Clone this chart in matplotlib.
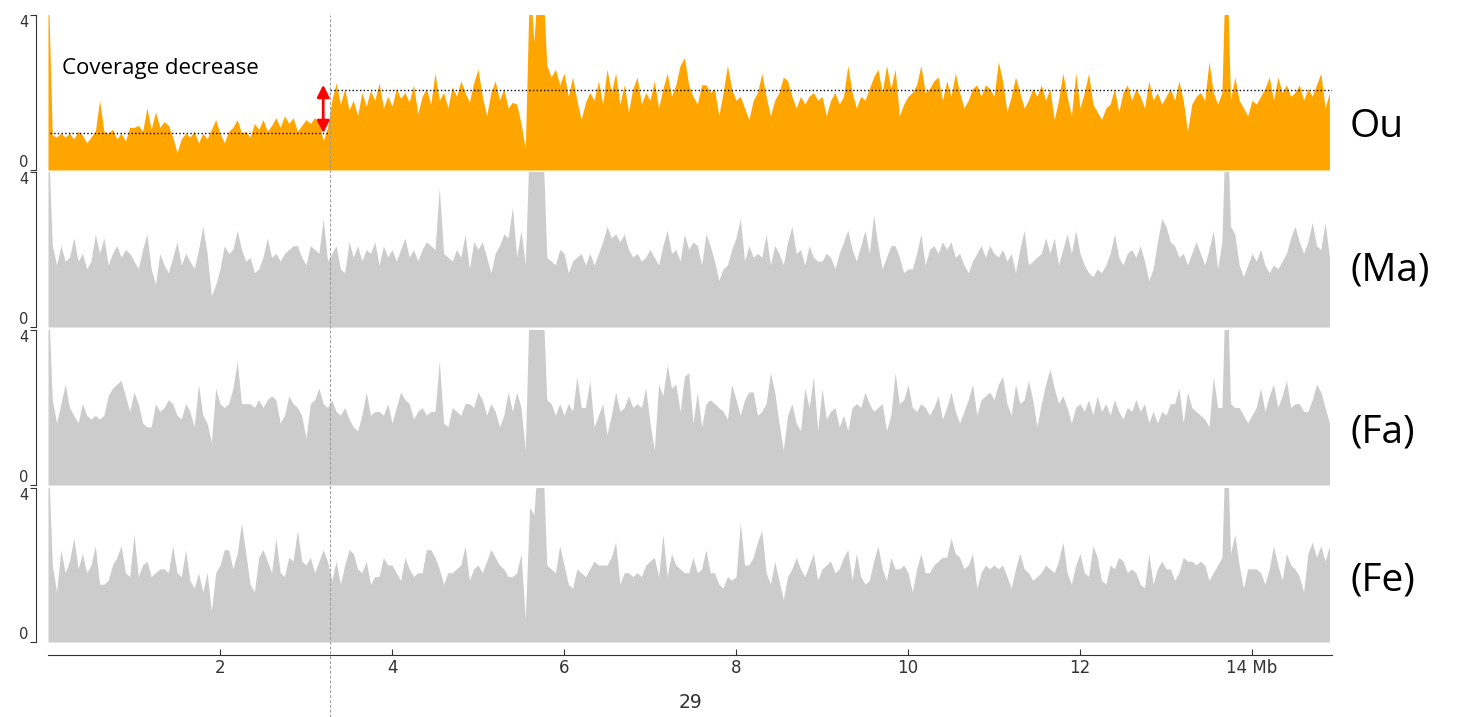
import numpy as np
import matplotlib.pyplot as plt
from matplotlib.lines import Line2D
from matplotlib import transforms

# coverage per 50 kb bin along chromosome 29 (Mb), one row per Mb
bin_mb = 0.05

ou = [
    5.0, 0.9, 0.85, 0.95, 0.85, 0.95, 0.8, 1.0, 0.9, 0.7, 0.85, 1.0, 1.8, 1.0, 0.95, 1.05, 0.8, 0.95, 0.75, 1.1,
    1.1, 1.15, 1.0, 1.6, 1.05, 1.5, 1.1, 1.25, 1.15, 0.85, 0.45, 0.8, 0.95, 0.85, 1.0, 0.7, 0.95, 0.8, 1.05, 1.3,
    0.95, 0.7, 1.0, 1.1, 1.3, 0.95, 1.0, 0.85, 1.2, 1.05, 1.3, 1.0, 1.15, 1.35, 1.1, 1.4, 1.2, 1.35, 1.0, 1.15,
    1.3, 1.2, 1.35, 1.25, 0.75, 1.1, 1.8, 2.25, 1.7, 2.1, 1.55, 1.8, 1.4, 2.0, 1.65, 2.05, 1.8, 2.25, 1.6, 1.9,
    1.65, 2.1, 1.85, 2.0, 1.75, 2.2, 1.45, 1.9, 2.1, 1.7, 2.5, 1.8, 2.0, 1.6, 2.15, 1.9, 2.3, 2.0, 1.75, 2.25,
    2.6, 1.9, 1.4, 2.0, 2.3, 1.8, 2.1, 1.6, 1.75, 1.7, 1.2, 0.55, 5.0, 3.3, 5.0, 5.0, 2.7, 2.4, 2.6, 2.2,
    2.5, 1.9, 2.4, 1.8, 1.3, 1.75, 2.0, 1.8, 2.3, 1.7, 2.6, 2.0, 2.5, 1.7, 2.2, 1.5, 2.1, 2.4, 1.7, 2.0,
    1.8, 2.3, 1.6, 2.1, 2.5, 1.9, 2.2, 2.7, 2.9, 2.2, 1.9, 1.7, 2.2, 2.2, 2.0, 2.1, 1.4, 2.0, 2.7, 2.1,
    1.8, 1.9, 1.6, 1.3, 1.8, 2.0, 2.5, 1.9, 1.4, 1.8, 2.0, 2.4, 2.3, 1.9, 1.6, 1.9, 1.7, 1.9, 2.0, 1.8,
    1.9, 1.4, 1.8, 2.0, 1.7, 1.9, 2.7, 2.0, 1.6, 1.9, 1.8, 2.1, 2.4, 2.6, 2.0, 2.7, 2.1, 2.6, 1.4, 1.7,
    1.9, 2.0, 2.2, 2.7, 2.0, 2.1, 2.3, 2.4, 1.8, 2.3, 1.9, 2.5, 2.0, 1.6, 1.8, 2.1, 2.2, 1.9, 2.2, 2.1,
    1.9, 2.8, 2.3, 1.5, 1.9, 2.4, 2.0, 1.6, 1.8, 2.1, 1.9, 2.2, 1.8, 2.1, 1.3, 1.8, 2.5, 1.9, 1.4, 2.5,
    1.6, 2.0, 2.5, 1.7, 1.5, 1.3, 1.6, 1.7, 2.1, 1.5, 2.0, 2.2, 1.8, 2.1, 1.9, 1.6, 2.3, 1.8, 2.0, 1.7,
    1.9, 2.1, 1.8, 2.3, 1.8, 1.0, 1.7, 1.9, 2.0, 1.8, 2.8, 2.0, 1.7, 2.0, 6.0, 1.8, 2.4, 1.8, 1.6, 1.4,
    1.8, 1.7, 1.9, 2.1, 2.4, 1.8, 2.4, 2.0, 2.2, 1.9, 2.0, 2.2, 1.8, 2.1, 1.9, 2.2, 2.5, 1.6, 2.0,
]

ma = [
    5.0, 2.1, 1.6, 2.1, 1.7, 1.8, 2.3, 1.7, 1.9, 1.5, 1.7, 2.4, 1.9, 2.3, 1.6, 1.9, 2.1, 1.8, 2.0, 1.9,
    1.7, 1.5, 2.0, 2.4, 1.5, 1.1, 1.9, 1.6, 1.4, 1.8, 2.2, 1.6, 1.9, 1.7, 1.5, 2.0, 2.6, 1.9, 0.8, 1.1,
    1.5, 2.1, 1.9, 2.0, 2.5, 2.0, 1.7, 1.8, 1.4, 1.5, 1.8, 2.3, 1.8, 1.9, 1.7, 1.9, 2.0, 2.1, 2.1, 1.8,
    1.6, 2.1, 2.0, 1.9, 2.8, 1.7, 1.9, 2.1, 1.5, 1.4, 2.2, 1.8, 2.1, 1.7, 2.0, 1.9, 2.2, 1.6, 2.1, 1.8,
    2.0, 1.7, 2.0, 2.3, 1.8, 2.0, 1.7, 2.0, 2.2, 2.1, 2.0, 3.6, 1.9, 1.8, 1.7, 2.0, 1.8, 2.4, 1.5, 2.2,
    2.0, 2.2, 1.8, 1.4, 1.9, 2.1, 2.4, 2.3, 3.1, 1.8, 2.5, 1.6, 5.0, 5.0, 5.0, 5.0, 1.8, 1.7, 1.6, 2.0,
    1.9, 1.4, 1.7, 1.8, 1.9, 1.6, 1.9, 1.6, 1.9, 2.2, 2.6, 2.3, 2.4, 2.2, 2.4, 2.0, 1.8, 1.9, 1.7, 1.8,
    2.0, 1.8, 1.6, 2.1, 2.5, 1.9, 2.0, 1.7, 2.4, 2.0, 2.2, 2.1, 1.6, 2.4, 2.1, 1.7, 1.2, 1.5, 1.6, 2.0,
    2.3, 2.8, 1.7, 2.1, 1.8, 1.9, 1.8, 2.4, 1.6, 2.1, 1.9, 1.6, 2.2, 2.6, 1.9, 2.0, 1.6, 2.1, 1.8, 1.7,
    1.7, 1.9, 1.8, 1.5, 1.9, 2.2, 2.5, 2.0, 1.7, 2.1, 2.5, 1.9, 2.9, 2.1, 1.5, 1.8, 2.1, 2.1, 1.8, 1.4,
    1.5, 1.5, 1.9, 2.4, 1.6, 2.0, 2.1, 1.9, 2.2, 2.0, 2.2, 1.8, 1.9, 1.6, 1.4, 1.7, 1.9, 2.1, 1.8, 2.1,
    1.9, 1.8, 2.0, 1.7, 1.9, 1.4, 2.0, 2.5, 1.6, 1.7, 1.8, 1.9, 2.3, 1.9, 2.3, 1.6, 2.0, 2.4, 1.9, 2.5,
    1.9, 1.6, 1.4, 1.3, 1.5, 1.4, 1.6, 1.9, 2.4, 1.8, 1.6, 1.9, 2.0, 1.8, 2.1, 1.7, 1.2, 1.5, 2.2, 2.8,
    2.6, 2.2, 2.1, 1.8, 1.9, 1.6, 1.9, 2.2, 1.9, 1.6, 2.0, 2.5, 1.5, 2.2, 6.0, 2.6, 2.4, 1.6, 1.3, 1.6,
    1.9, 1.7, 2.0, 1.6, 1.4, 1.6, 1.5, 1.7, 1.9, 2.3, 2.6, 2.2, 1.9, 2.2, 2.7, 2.1, 2.0, 2.7, 1.8,
]

fa = [
    5.0, 2.2, 1.6, 2.1, 2.6, 2.0, 1.8, 1.6, 2.1, 1.8, 1.7, 1.8, 1.7, 1.8, 2.3, 2.5, 2.6, 2.7, 2.3, 1.9,
    2.4, 2.1, 1.6, 1.5, 1.5, 2.1, 1.9, 2.0, 2.2, 2.1, 1.8, 1.7, 2.1, 1.9, 1.5, 2.6, 1.8, 1.6, 1.1, 2.5,
    2.1, 2.0, 2.1, 2.5, 3.2, 2.1, 2.1, 2.1, 2.0, 2.2, 2.0, 2.2, 2.3, 2.2, 1.6, 1.8, 2.3, 2.1, 2.0, 1.8,
    1.2, 2.1, 2.2, 2.5, 2.1, 2.0, 2.2, 1.9, 1.8, 2.0, 1.7, 1.5, 1.4, 1.8, 2.4, 1.8, 1.9, 1.9, 1.8, 2.1,
    1.6, 2.0, 2.4, 2.2, 2.1, 1.7, 1.9, 2.0, 1.8, 1.9, 1.9, 3.2, 1.6, 1.5, 2.0, 1.9, 1.8, 2.1, 2.1, 2.0,
    2.4, 2.2, 1.8, 2.1, 1.9, 1.5, 1.8, 2.4, 1.9, 2.4, 2.0, 0.9, 5.0, 5.0, 5.0, 5.0, 2.2, 2.1, 1.8, 2.1,
    1.8, 2.1, 1.9, 2.8, 2.0, 2.0, 2.7, 1.5, 1.8, 2.1, 1.3, 1.8, 2.4, 1.9, 2.0, 2.3, 2.0, 2.1, 2.0, 2.5,
    1.6, 0.9, 2.6, 2.3, 3.1, 2.5, 2.6, 1.9, 2.8, 2.9, 1.6, 2.4, 1.5, 2.1, 2.2, 2.1, 2.0, 1.9, 1.7, 2.6,
    2.2, 1.8, 2.2, 2.4, 2.4, 1.8, 1.9, 2.1, 2.9, 2.4, 1.6, 0.9, 1.8, 2.1, 1.6, 1.4, 2.5, 2.0, 2.8, 1.4,
    2.5, 1.7, 1.9, 2.0, 1.5, 1.8, 1.4, 2.0, 2.1, 2.0, 2.4, 2.1, 1.9, 2.0, 2.1, 1.4, 1.8, 2.9, 2.1, 2.2,
    2.6, 2.0, 1.9, 2.1, 2.0, 1.8, 2.0, 2.3, 1.7, 2.0, 2.4, 1.9, 1.6, 1.9, 2.2, 2.6, 1.8, 2.2, 2.3, 2.4,
    2.2, 2.6, 2.8, 2.1, 1.8, 2.6, 2.1, 2.2, 2.7, 2.2, 1.5, 2.1, 2.6, 3.0, 2.5, 2.1, 2.3, 2.0, 1.6, 2.0,
    2.1, 1.9, 2.2, 1.8, 2.3, 1.9, 2.1, 1.8, 2.2, 1.9, 1.7, 2.0, 1.9, 2.2, 1.9, 2.1, 1.6, 1.9, 1.6, 1.9,
    1.8, 2.1, 2.1, 2.5, 1.6, 2.4, 2.0, 1.9, 1.8, 1.7, 1.5, 2.8, 2.0, 2.0, 6.0, 2.1, 2.0, 2.0, 1.8, 1.6,
    1.8, 2.0, 2.5, 1.9, 2.3, 2.6, 2.0, 2.3, 2.7, 2.0, 2.1, 2.1, 1.9, 1.9, 2.2, 2.6, 2.4, 2.0, 1.6,
]

fe = [
    5.0, 2.0, 1.3, 2.4, 1.8, 2.1, 2.7, 1.9, 2.3, 1.8, 2.0, 2.5, 1.5, 1.5, 1.6, 2.0, 2.2, 2.5, 1.8, 1.7,
    2.8, 1.7, 2.0, 2.1, 1.7, 1.8, 1.9, 1.9, 1.8, 2.5, 1.8, 1.7, 2.4, 1.6, 1.4, 1.8, 1.3, 1.8, 0.8, 1.8,
    2.0, 2.4, 2.4, 1.9, 2.3, 3.1, 2.3, 1.5, 1.3, 2.2, 2.4, 2.1, 1.8, 2.7, 1.8, 1.7, 2.2, 2.1, 2.9, 2.1,
    2.0, 2.2, 1.8, 2.1, 2.4, 2.1, 1.6, 2.1, 1.5, 2.0, 2.4, 2.3, 1.9, 1.8, 2.1, 1.5, 1.7, 1.7, 2.2, 2.0,
    2.0, 1.8, 1.6, 2.2, 1.9, 1.7, 1.8, 1.8, 2.4, 2.4, 2.2, 1.9, 1.5, 1.8, 1.8, 1.9, 2.0, 2.5, 1.6, 1.9,
    2.0, 1.8, 2.1, 2.4, 2.2, 2.0, 1.9, 1.7, 1.7, 1.8, 2.3, 0.6, 3.5, 3.3, 5.0, 5.0, 2.0, 1.9, 1.8, 2.5,
    2.0, 1.5, 1.4, 1.9, 1.8, 1.7, 1.9, 2.1, 2.0, 2.0, 2.0, 2.2, 2.6, 1.5, 1.8, 1.8, 1.7, 1.8, 1.7, 2.0,
    2.1, 2.2, 1.7, 2.8, 1.7, 2.3, 2.0, 1.9, 1.8, 1.8, 2.2, 1.8, 1.9, 2.4, 1.8, 1.8, 1.5, 1.4, 1.7, 1.6,
    1.7, 3.1, 2.0, 2.0, 2.2, 2.6, 2.9, 1.8, 1.5, 2.1, 1.6, 1.1, 1.7, 1.9, 2.2, 1.9, 1.7, 2.0, 2.3, 1.6,
    1.9, 2.0, 2.1, 1.8, 1.9, 2.2, 2.4, 1.6, 2.3, 1.7, 1.5, 1.6, 2.1, 2.5, 1.9, 1.6, 2.2, 1.9, 1.9, 2.0,
    1.8, 1.3, 1.9, 2.3, 1.8, 1.8, 2.0, 2.1, 2.2, 2.2, 2.7, 2.3, 2.2, 1.9, 2.0, 2.3, 1.4, 1.8, 2.0, 1.9,
    2.0, 1.9, 2.0, 1.7, 1.4, 1.9, 2.3, 1.9, 1.8, 1.6, 1.7, 1.8, 2.0, 1.9, 1.8, 2.1, 2.6, 1.8, 1.5, 2.0,
    2.3, 1.8, 1.7, 2.5, 2.2, 1.6, 1.5, 2.0, 1.9, 2.2, 2.1, 1.8, 1.9, 1.8, 1.5, 1.4, 2.3, 1.5, 1.9, 2.1,
    1.9, 1.9, 1.6, 1.8, 2.2, 2.1, 2.1, 2.0, 2.1, 2.0, 1.6, 1.8, 2.0, 2.2, 6.0, 2.3, 2.8, 2.0, 1.4, 1.9,
    1.9, 1.9, 1.8, 1.5, 1.9, 2.5, 2.0, 1.6, 2.3, 2.0, 1.9, 1.7, 1.3, 2.3, 2.6, 2.2, 2.5, 2.1, 2.5,
]

names = ["Ou", "(Ma)", "(Fa)", "(Fe)"]
series = [ou, ma, fa, fe]
colors = ["#FFA500", "#CCCCCC", "#CCCCCC", "#CCCCCC"]

xticks = [2, 4, 6, 8, 10, 12, 14]
xticklabels = ["2", "4", "6", "8", "10", "12", "14 Mb"]
chrom = "29"

breakpoint_mb = 3.28
low_level = 0.95
high_level = 2.06

W, H = 1464, 717
fig = plt.figure(figsize=(W / 100, H / 100), dpi=100)

# pixel rows of each track (top, bottom) and y of the sample label
rows = [(15, 170), (172, 327), (330, 485), (488, 642)]
label_y = [127, 270, 432, 580]

axes = []
for name, vals, col, (top, bot), ly in zip(names, series, colors, rows, label_y):
    ax = fig.add_axes([48 / W, 1 - bot / H, 1284 / W, (bot - top) / H])
    x = np.arange(len(vals)) * bin_mb
    ax.fill_between(x, 0, vals, color=col, lw=0)
    ax.set_xlim(0, 14.93)
    ax.set_ylim(0, 4)
    for s in ["top", "right", "bottom"]:
        ax.spines[s].set_visible(False)
    ax.spines["left"].set_position(("outward", 8.5))
    ax.spines["left"].set_color("#333333")
    ax.set_yticks([0, 4])
    ax.set_yticklabels(["0", "4"])
    ax.tick_params(axis="y", length=4.5, labelsize=10.5, pad=1, colors="#333333")
    ylabels = ax.get_yticklabels()
    ylabels[0].set_va("bottom")
    ylabels[1].set_va("top")
    ax.set_xticks([])
    ax.patch.set_alpha(0)
    fig.text(1350 / W, 1 - ly / H, name, fontsize=28, family="Open Sans", va="center", ha="left")
    axes.append(ax)

ax_ou = axes[0]
ax_fe = axes[-1]

# shared position axis under the last track
ax_fe.spines["bottom"].set_visible(True)
ax_fe.spines["bottom"].set_position(("outward", 9.5))
ax_fe.spines["bottom"].set_color("#333333")
ax_fe.set_xticks(xticks)
ax_fe.set_xticklabels(xticklabels)
ax_fe.tick_params(axis="x", direction="in", length=4, labelsize=12, pad=3, colors="#333333")
ax_fe.set_xlabel(chrom, fontsize=13.5, labelpad=11, color="#333333")

# breakpoint line running through all tracks down to the bottom
tr = transforms.blended_transform_factory(ax_fe.transData, fig.transFigure)
fig.add_artist(Line2D([breakpoint_mb, breakpoint_mb], [0, 1 - 15 / H], transform=tr,
                      color="#999999", lw=0.7, ls=(0, (3, 2)), zorder=5))

# mean coverage levels before and after the breakpoint
ax_ou.plot([0.02, breakpoint_mb], [low_level, low_level], color="black", lw=1, ls=":")
ax_ou.plot([breakpoint_mb, 14.93], [high_level, high_level], color="black", lw=1, ls=":")
ax_ou.annotate("", xy=(3.2, low_level), xytext=(3.2, 2.2),
               arrowprops=dict(arrowstyle="<|-|>", color="red", lw=2, mutation_scale=18,
                               shrinkA=0, shrinkB=0))
ax_ou.text(0.16, 2.63, "Coverage decrease", fontsize=16, family="Open Sans", va="center")

fig.savefig("out.png", dpi=100)
